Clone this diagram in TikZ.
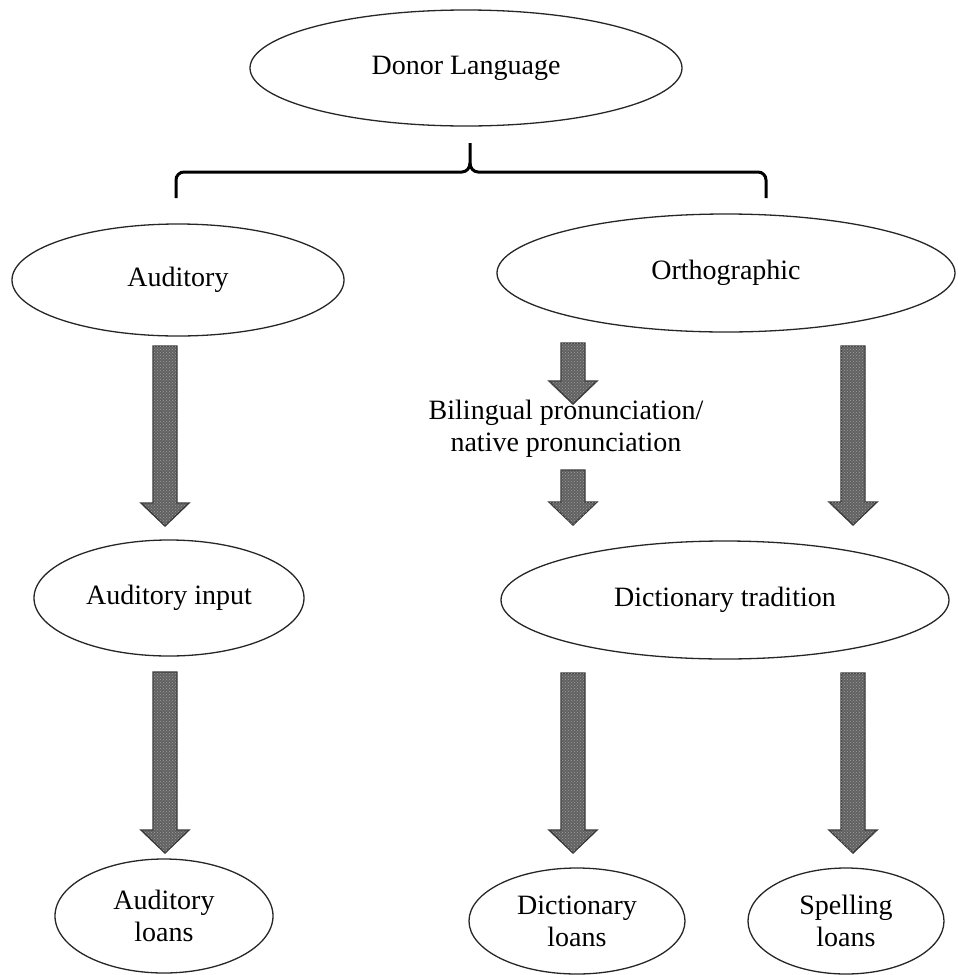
\documentclass[tikz,border=0pt]{standalone}
\usepackage{fontspec}
\setmainfont{Liberation Serif}
\usetikzlibrary{shapes.geometric,patterns}
\tikzset{
  oval/.style={ellipse, draw=black!85, line width=1.3pt, inner sep=0pt, align=center,
    font=\fontsize{28}{32}\selectfont},
  lbl/.style={inner sep=0pt, align=center, font=\fontsize{28}{32}\selectfont},
  barrowstyle/.style={draw=black!78, line width=1.4pt, line join=miter, fill=black!62,
    postaction={pattern=crosshatch dots, pattern color=black!38}},
  bracestyle/.style={line width=3pt, black}
}
\newcommand\myblockarrow[3]{%
  \filldraw[barrowstyle] (#1-12,#2) -- (#1+12,#2) -- (#1+12,#3-23) -- (#1+24,#3-23)
    -- (#1,#3) -- (#1-24,#3-23) -- (#1-12,#3-23) -- cycle;}
\begin{document}
\begin{tikzpicture}[x=1pt,y=-1pt]
\useasboundingbox (0,0) rectangle (958,975);
\node[oval, minimum width=432pt, minimum height=116pt] (donor) at (466,68) {Donor Language};
\node[oval, minimum width=332pt, minimum height=112pt] (aud) at (178,280) {Auditory};
\node[oval, minimum width=458pt, minimum height=118pt] (orth) at (726,273) {Orthographic};
\node[oval, minimum width=270pt, minimum height=116pt] (audin) at (169,598) {Auditory input};
\node[oval, minimum width=448pt, minimum height=118pt] (dict) at (725,600) {Dictionary tradition};
\node[oval, minimum width=218pt, minimum height=114pt] (audloans) at (164,916) {Auditory\\loans};
\node[oval, minimum width=216pt, minimum height=106pt] (dictloans) at (577,921) {Dictionary\\loans};
\node[oval, minimum width=196pt, minimum height=106pt] (spellloans) at (846,921) {Spelling\\loans};
\node[lbl] (bil) at (566,429) {Bilingual pronunciation/\\native pronunciation};
% brace
\coordinate (bl) at (176,198);
\coordinate (br) at (766,198);
\coordinate (bt) at (470,143);
\draw[bracestyle] (bl) -- (176,180) to[out=90,in=180] (184,172) -- (462,172)
   to[out=0,in=-90] (470,163) -- (bt);
\draw[bracestyle] (470,163) to[out=-90,in=180] (478,172) -- (758,172)
   to[out=0,in=90] (br |- 0,180) -- (br);
% block arrows
\myblockarrow{165}{346}{526}
\myblockarrow{165}{672}{853}
\myblockarrow{573}{343}{404}
\myblockarrow{573}{470}{525}
\myblockarrow{853}{346}{525}
\myblockarrow{573}{673}{853}
\myblockarrow{853}{673}{853}
\end{tikzpicture}
\end{document}
